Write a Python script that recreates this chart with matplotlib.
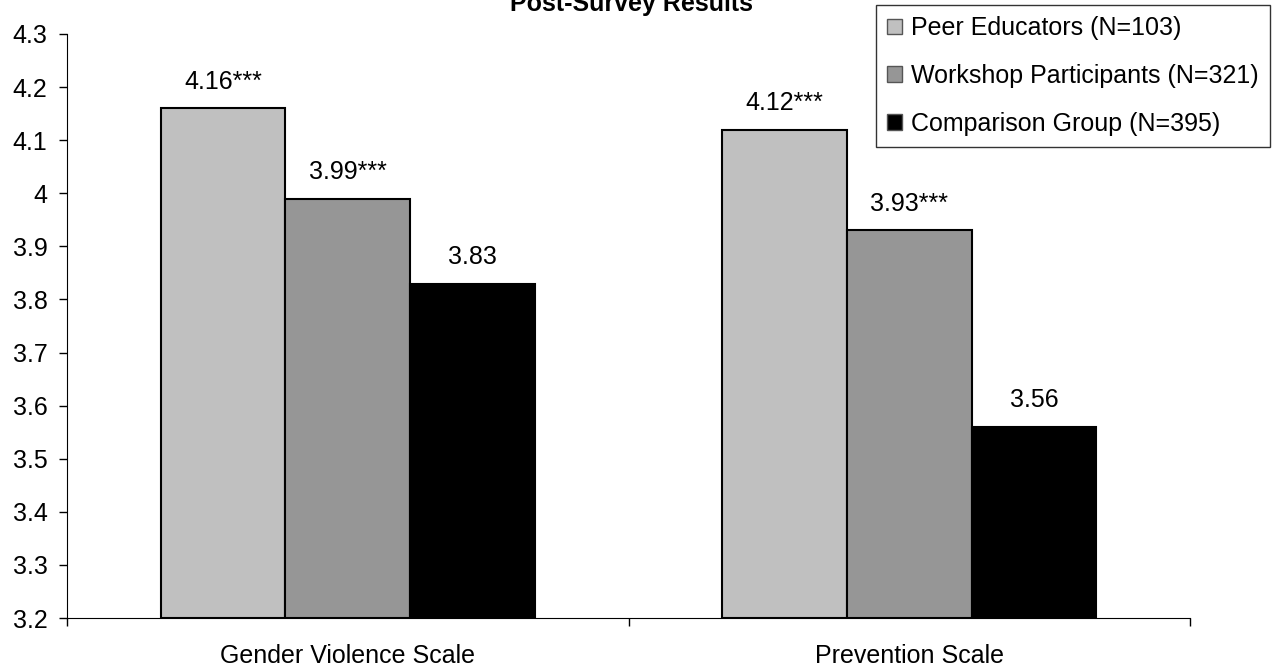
import numpy as np
import matplotlib.pyplot as plt

# Post-survey mean scores by group
scales = ["Gender Violence Scale", "Prevention Scale"]
groups = ["Peer Educators (N=103)", "Workshop Participants (N=321)", "Comparison Group (N=395)"]
peer = [4.16, 4.12]
workshop = [3.99, 3.93]
comparison = [3.83, 3.56]
stars = [["***", "***"], ["***", "***"], ["", ""]]
colors = ["#c0c0c0", "#969696", "#000000"]
yticks = [3.2, 3.3, 3.4, 3.5, 3.6, 3.7, 3.8, 3.9, 4.0, 4.1, 4.2, 4.3]

plt.rcParams['font.family'] = ['Liberation Sans', 'DejaVu Sans']
FS = 18

fig = plt.figure(figsize=(12.79, 6.69), dpi=100)
ax = fig.add_axes([0.0524, 0.0762, 0.878, 0.873])

x = np.arange(len(scales))
width = 0.222
series = [peer, workshop, comparison]
for i, vals in enumerate(series):
    pos = x + (i - 1) * width
    ax.bar(pos, np.array(vals) - 3.2, width, bottom=3.2, color=colors[i],
           edgecolor="black", linewidth=1.5, label=groups[i])
    for p, v, s in zip(pos, vals, stars[i]):
        ax.text(p, v + 0.037, f"{v:.2f}{s}", ha="center", va="baseline", fontsize=FS)

ax.set_xlim(-0.5, 1.5)
ax.set_ylim(3.2, 4.3)
ax.set_yticks(yticks)
ax.set_yticklabels([f"{t:g}" for t in yticks], fontsize=FS)

# boundary ticks between categories, labels centred under each group
ax.set_xticks([-0.5, 0.5, 1.5])
ax.set_xticklabels([])
ax.set_xticks(x, minor=True)
ax.set_xticklabels(scales, minor=True, fontsize=FS)
ax.tick_params(axis="x", which="minor", length=0, pad=19)
ax.tick_params(axis="x", which="major", length=6, width=1)
ax.tick_params(axis="y", length=6, width=1, pad=8)

ax.spines["top"].set_visible(False)
ax.spines["right"].set_visible(False)

fig.text(0.494, 0.9836, "Post-Survey Results", ha="center", va="baseline",
         fontsize=FS, fontweight="bold")

leg = fig.legend(loc="upper right", bbox_to_anchor=(1270 / 1279, 1 - 5 / 669), fontsize=FS,
                 frameon=True, fancybox=False, edgecolor="black", handlelength=0.6,
                 handleheight=0.6, handletextpad=0.35, labelspacing=0.95, borderpad=0.45,
                 borderaxespad=0)
leg.get_frame().set_linewidth(1.0)
for h in leg.legend_handles:
    h.set_edgecolor("#555555")
    h.set_linewidth(1.0)

fig.savefig("out.png", dpi=100)
